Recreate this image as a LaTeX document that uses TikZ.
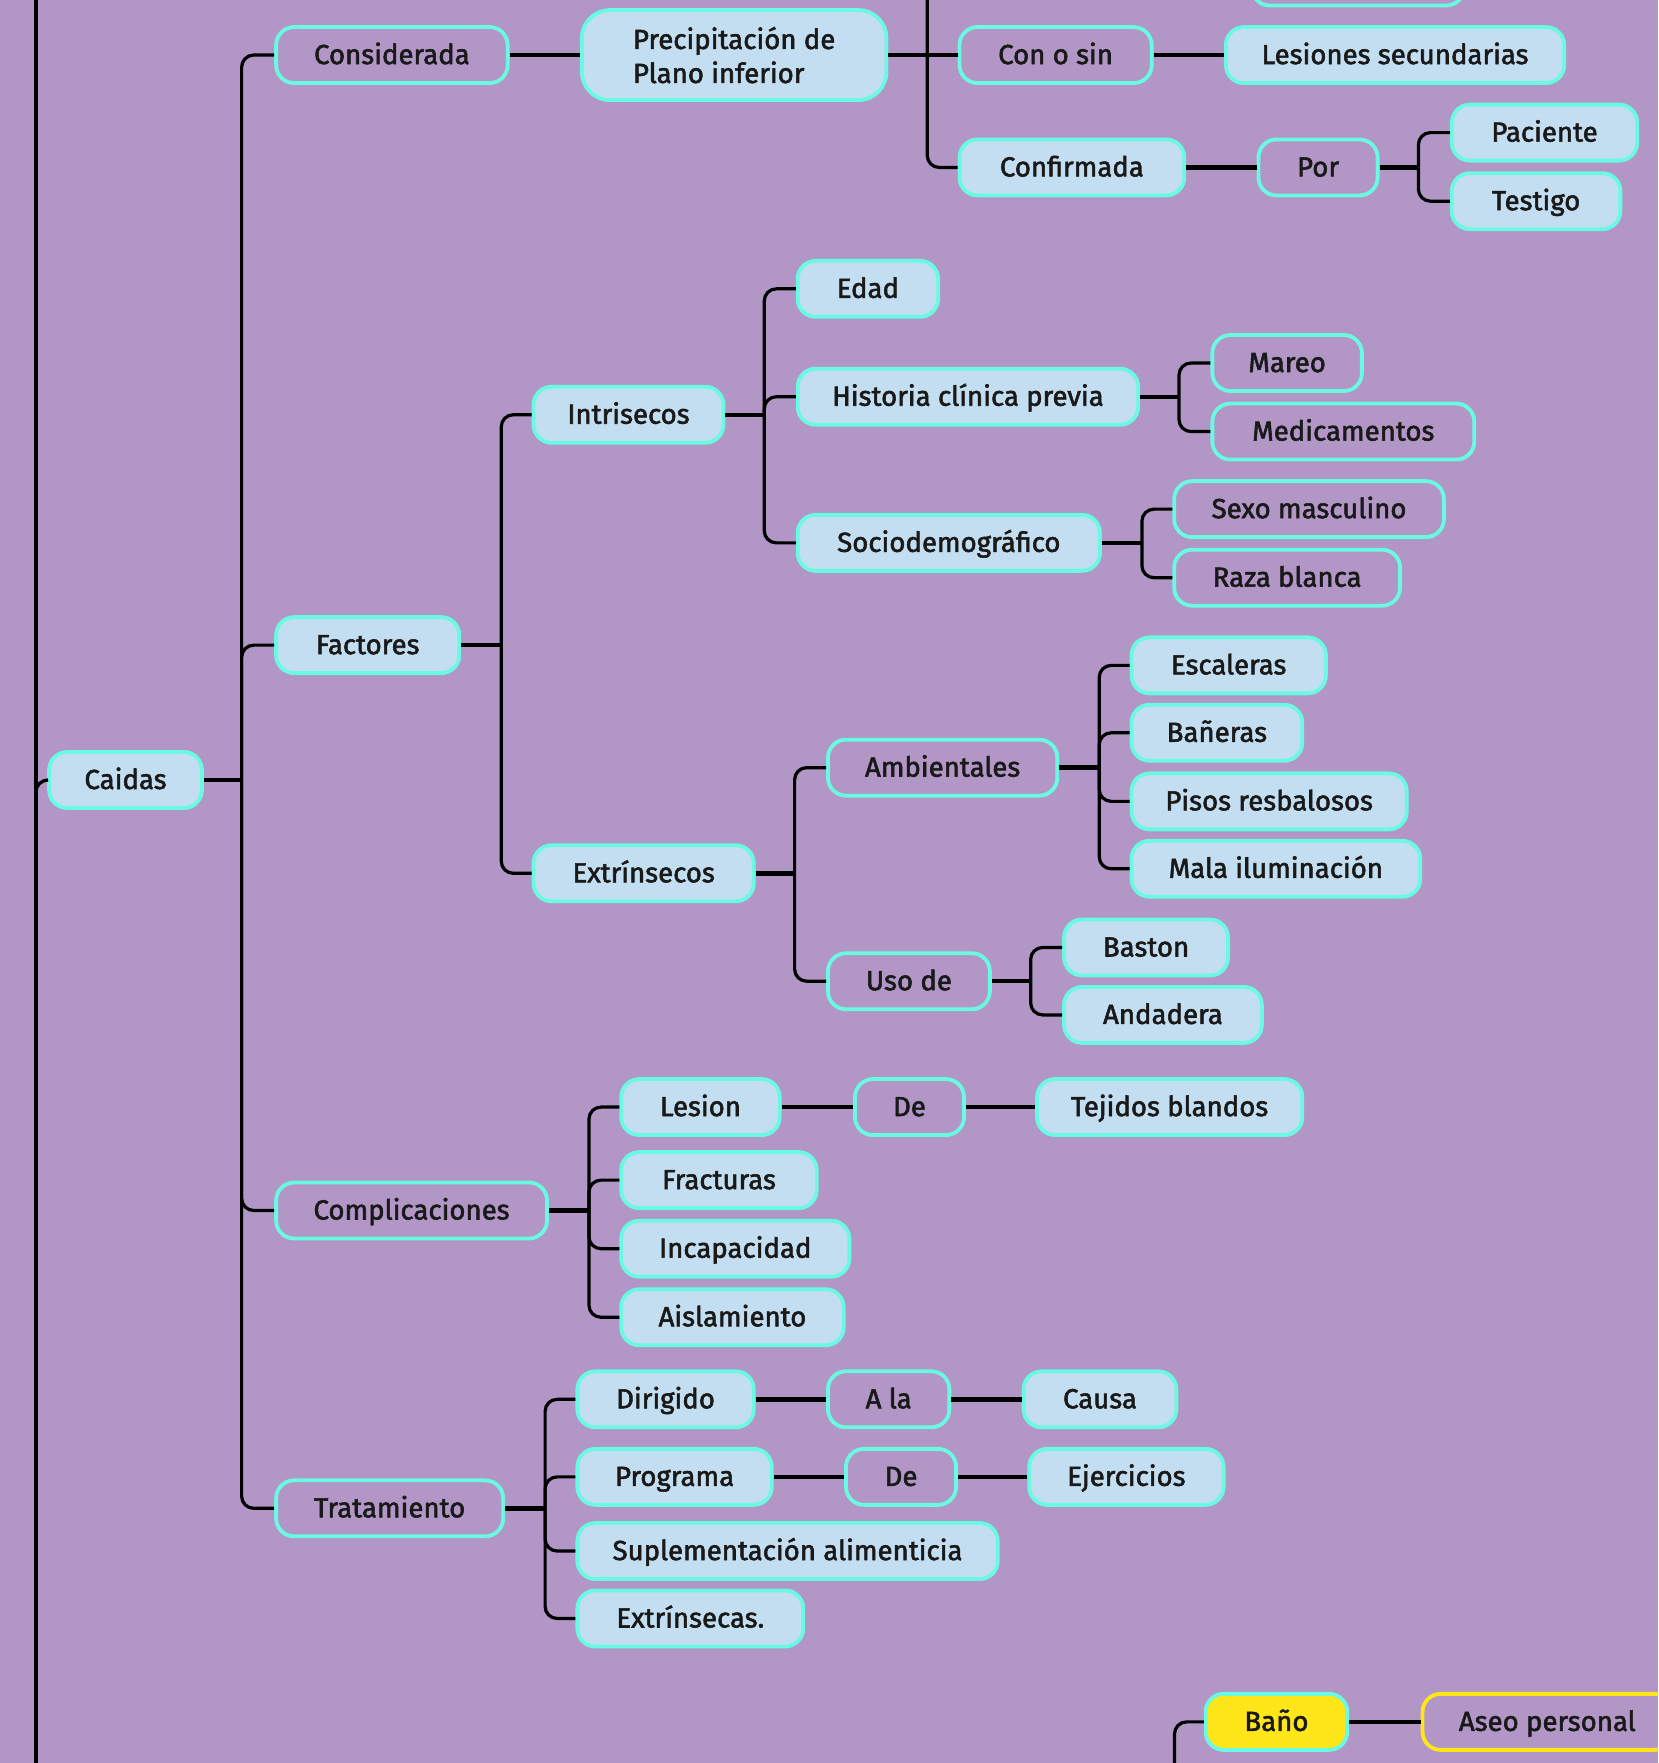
\documentclass[tikz,border=0pt]{standalone}
\usepackage{fontspec}
\setmainfont{Fira Sans}[FakeBold=2]
\definecolor{bgpurple}{RGB}{177,150,198}
\definecolor{boxfill}{RGB}{195,222,240}
\definecolor{boxline}{RGB}{106,250,228}
\definecolor{markyellow}{RGB}{255,230,25}
\tikzset{
    topicbox/.style={draw=boxline, line width=1.9pt, rounded corners=9pt,
        minimum height=28pt, inner sep=2pt, anchor=west, text=black!90,
        text height=11.8pt, text depth=2.8pt,
        font=\fontsize{13.8}{17}\selectfont},
    bluebox/.style={topicbox, fill=boxfill},
    openbox/.style={topicbox},
    wd/.style={minimum width=#1*0.562pt},
    stub/.style={line width=2.2pt},
    branch/.style={line width=1.6pt, rounded corners=6pt},
}

\begin{document}
\begin{tikzpicture}[x=0.562pt, y=-0.562pt]
    \useasboundingbox (0,0) rectangle (1475.2,1568.6);
    \clip (0,0) rectangle (1475.2,1568.6);
    \fill[bgpurple] (0,0) rectangle (1475.2,1568.6);

    % root column
    \node[bluebox, wd=136] (caidas) at (42,694) {Caidas};
    \coordinate (rootTop) at (32,-5);
    \coordinate (rootBot) at (32,1575);
    \coordinate (rootJ) at (32,725);
    \draw[branch] (rootTop) -- (rootBot);
    \draw[branch] (rootJ) |- (caidas.west);

    % first level
    \node[openbox, wd=206] (consid) at (244,49) {Considerada};
    \node[bluebox, wd=163] (factores) at (244,574) {Factores};
    \node[openbox, wd=241] (compl) at (244,1077) {Complicaciones};
    \node[openbox, wd=202] (trat) at (244,1342) {Tratamiento};
    \coordinate (jcaidas) at (215,694);
    \draw[stub] (caidas.east) -- (jcaidas);
    \foreach \kid in {consid, factores, compl, trat}
        \draw[branch] (jcaidas) |- (\kid.west);

    % considerada
    \node[bluebox, wd=271, minimum height=45pt, rounded corners=14pt,
        text height={}, text depth={}, align=left] (precip) at (516,49)
        {Precipitación de\\Plano inferior};
    \draw[stub] (consid.east) -- (precip.west);
    \node[openbox, wd=171] (conosin) at (852,49) {Con o sin};
    \node[bluebox, wd=200] (confirm) at (852,149) {Confirmada};
    \node[openbox, wd=189] (hidden) at (1112,-20) {};
    \coordinate (jprecip) at (825,49);
    \coordinate (jtop) at (825,-5);
    \draw[stub] (precip.east) -- (jprecip);
    \draw[stub] (jprecip) -- (conosin.west);
    \draw[branch] (jtop) |- (confirm.west);
    \node[bluebox, wd=301] (lesiones) at (1089,49) {Lesiones secundarias};
    \draw[stub] (conosin.east) -- (lesiones.west);
    \node[openbox, wd=106] (por) at (1118,149) {Por};
    \draw[stub] (confirm.east) -- (por.west);
    \node[bluebox, wd=165] (paciente) at (1290,118) {Paciente};
    \node[bluebox, wd=150] (testigo) at (1290,179) {Testigo};
    \coordinate (jpor) at (1262,149);
    \draw[stub] (por.east) -- (jpor);
    \foreach \kid in {paciente, testigo}
        \draw[branch] (jpor) |- (\kid.west);

    % factores
    \node[bluebox, wd=169] (intris) at (473,369) {Intrisecos};
    \node[bluebox, wd=196] (extrin) at (473,777) {Extrínsecos};
    \coordinate (jfact) at (446,574);
    \draw[stub] (factores.east) -- (jfact);
    \foreach \kid in {intris, extrin}
        \draw[branch] (jfact) |- (\kid.west);

    \node[bluebox, wd=125] (edad) at (708,257) {Edad};
    \node[bluebox, wd=303] (historia) at (708,353) {Historia clínica previa};
    \node[bluebox, wd=269] (socio) at (708,483) {Sociodemográfico};
    \coordinate (jintris) at (680,369);
    \draw[stub] (intris.east) -- (jintris);
    \foreach \kid in {edad, historia, socio}
        \draw[branch] (jintris) |- (\kid.west);

    \node[openbox, wd=133] (mareo) at (1077,323) {Mareo};
    \node[openbox, wd=233] (medic) at (1077,384) {Medicamentos};
    \coordinate (jhist) at (1049,353);
    \draw[stub] (historia.east) -- (jhist);
    \foreach \kid in {mareo, medic}
        \draw[branch] (jhist) |- (\kid.west);

    \node[openbox, wd=240] (sexo) at (1043,453) {Sexo masculino};
    \node[openbox, wd=201] (raza) at (1043,514) {Raza blanca};
    \coordinate (jsocio) at (1016,483);
    \draw[stub] (socio.east) -- (jsocio);
    \foreach \kid in {sexo, raza}
        \draw[branch] (jsocio) |- (\kid.west);

    \node[openbox, wd=204] (ambient) at (735,683) {Ambientales};
    \node[openbox, wd=144] (uso) at (735,873) {Uso de};
    \coordinate (jextrin) at (707,777);
    \draw[stub] (extrin.east) -- (jextrin);
    \foreach \kid in {ambient, uso}
        \draw[branch] (jextrin) |- (\kid.west);

    \node[bluebox, wd=173] (escal) at (1005,592) {Escaleras};
    \node[bluebox, wd=152] (banera) at (1005,652) {Bañeras};
    \node[bluebox, wd=245] (pisos) at (1005,713) {Pisos resbalosos};
    \node[bluebox, wd=257] (mala) at (1005,773) {Mala iluminación};
    \coordinate (jambient) at (978,683);
    \draw[stub] (ambient.east) -- (jambient);
    \foreach \kid in {escal, banera, pisos, mala}
        \draw[branch] (jambient) |- (\kid.west);

    \node[bluebox, wd=146] (baston) at (945,843) {Baston};
    \node[bluebox, wd=176] (andad) at (945,903) {Andadera};
    \coordinate (juso) at (917,873);
    \draw[stub] (uso.east) -- (juso);
    \foreach \kid in {baston, andad}
        \draw[branch] (juso) |- (\kid.west);

    % complicaciones
    \node[bluebox, wd=141] (lesion) at (551,985) {Lesion};
    \node[bluebox, wd=174] (fract) at (551,1050) {Fracturas};
    \node[bluebox, wd=203] (incap) at (551,1111) {Incapacidad};
    \node[bluebox, wd=198] (aisl) at (551,1172) {Aislamiento};
    \coordinate (jcompl) at (524,1077);
    \draw[stub] (compl.east) -- (jcompl);
    \foreach \kid in {lesion, fract, incap, aisl}
        \draw[branch] (jcompl) |- (\kid.west);
    \node[openbox, wd=97] (deA) at (759,985) {De};
    \node[bluebox, wd=236] (tejidos) at (921,985) {Tejidos blandos};
    \draw[stub] (lesion.east) -- (deA.west);
    \draw[stub] (deA.east) -- (tejidos.west);

    % tratamiento
    \node[bluebox, wd=157] (dirig) at (512,1245) {Dirigido};
    \node[bluebox, wd=173] (program) at (512,1314) {Programa};
    \node[bluebox, wd=374] (suplem) at (512,1380) {Suplementación alimenticia};
    \node[bluebox, wd=201] (extrinB) at (512,1440) {Extrínsecas.};
    \coordinate (jtrat) at (485,1342);
    \draw[stub] (trat.east) -- (jtrat);
    \foreach \kid in {dirig, program, suplem, extrinB}
        \draw[branch] (jtrat) |- (\kid.west);
    \node[openbox, wd=108] (ala) at (735,1245) {A la};
    \node[bluebox, wd=136] (causa) at (909,1245) {Causa};
    \draw[stub] (dirig.east) -- (ala.west);
    \draw[stub] (ala.east) -- (causa.west);
    \node[openbox, wd=98] (deB) at (751,1314) {De};
    \node[bluebox, wd=173] (ejerc) at (914,1314) {Ejercicios};
    \draw[stub] (program.east) -- (deB.west);
    \draw[stub] (deB.east) -- (ejerc.west);

    % bottom branch
    \node[topicbox, fill=markyellow, wd=126] (bano) at (1071,1532) {Baño};
    \node[openbox, draw=markyellow, wd=222] (aseo) at (1264,1532) {Aseo personal};
    \coordinate (jbano) at (1045,1575);
    \draw[branch] (jbano) |- (bano.west);
    \draw[stub] (bano.east) -- (aseo.west);
\end{tikzpicture}
\end{document}
